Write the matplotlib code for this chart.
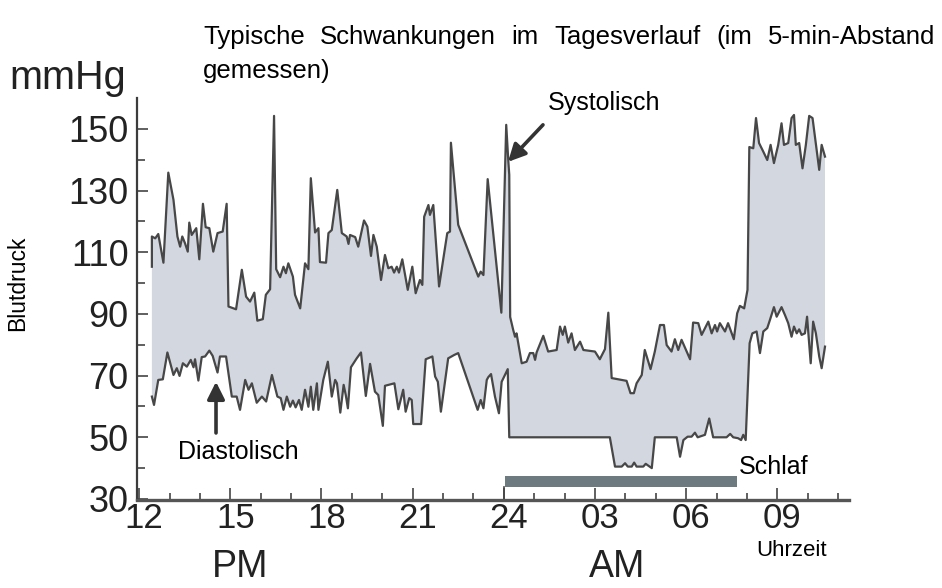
import numpy as np
import matplotlib.pyplot as plt
import matplotlib.transforms as mtransforms

plt.rcParams['font.family'] = ['Liberation Sans', 'DejaVu Sans']

# Blood pressure readings, time in hours since midnight of day 1 (24 = midnight)
sys_h = [12.42, 12.42, 12.53, 12.63, 12.80, 12.96, 13.13, 13.26, 13.35, 13.42,
         13.51, 13.60, 13.65, 13.73, 13.88, 13.98, 14.10, 14.19, 14.31, 14.44,
         14.58, 14.75, 14.88, 14.94, 15.19, 15.38, 15.52, 15.65, 15.79, 15.89,
         16.07, 16.17, 16.31, 16.44, 16.51, 16.64, 16.75, 16.83, 16.91, 17.06,
         17.13, 17.30, 17.46, 17.57, 17.65, 17.79, 17.90, 17.95, 18.15, 18.23,
         18.34, 18.52, 18.67, 18.83, 18.89, 18.94, 19.11, 19.21, 19.40, 19.51,
         19.63, 19.71, 19.82, 19.96, 20.09, 20.20, 20.31, 20.39, 20.48, 20.55,
         20.66, 20.84, 20.99, 21.10, 21.24, 21.32, 21.38, 21.52, 21.57, 21.68,
         21.87, 22.14, 22.23, 22.26, 22.50, 23.16, 23.24, 23.33, 23.47, 23.92,
         24.08, 24.15, 24.18, 24.21, 24.31, 24.37, 24.42, 24.59, 24.75, 24.86,
         24.97, 25.03, 25.08, 25.30, 25.46, 25.74, 25.85, 25.94, 26.01, 26.12,
         26.23, 26.34, 26.51, 26.62, 27.00, 27.16, 27.33, 27.44, 27.55, 28.04,
         28.17, 28.28, 28.37, 28.54, 28.64, 28.83, 28.97, 29.14, 29.27, 29.36,
         29.52, 29.63, 29.74, 29.85, 30.13, 30.23, 30.40, 30.51, 30.73, 30.84,
         30.95, 31.02, 31.11, 31.28, 31.38, 31.57, 31.68, 31.77, 31.91, 32.02,
         32.08, 32.21, 32.30, 32.40, 32.54, 32.67, 32.78, 32.89, 33.03, 33.14,
         33.22, 33.36, 33.47, 33.55, 33.61, 33.72, 33.83, 33.94, 34.05, 34.16,
         34.28, 34.38, 34.46, 34.57]
sys_v = [105.3, 115.1, 114.5, 115.9, 106.6, 135.8, 127.0, 115.1, 111.8, 115.1,
         112.9, 110.2, 119.6, 115.6, 117.8, 107.7, 125.7, 118.1, 117.8, 110.2,
         116.2, 116.7, 125.7, 92.4, 91.5, 104.3, 95.6, 94.0, 96.9, 87.8,
         88.3, 96.2, 98.0, 154.2, 104.5, 101.9, 105.3, 103.2, 106.4, 102.1,
         96.2, 91.8, 106.4, 104.5, 134.0, 116.4, 117.8, 106.8, 106.6, 116.2,
         117.2, 130.2, 116.2, 115.1, 112.7, 115.6, 114.9, 111.8, 120.3, 118.3,
         108.8, 115.6, 111.8, 101.0, 109.1, 104.8, 105.3, 103.4, 105.3, 103.4,
         107.7, 97.8, 105.3, 96.7, 101.0, 99.4, 121.5, 125.3, 122.1, 125.3,
         98.9, 116.2, 116.7, 145.5, 118.9, 102.1, 103.7, 102.6, 133.7, 90.4,
         151.3, 139.4, 135.1, 89.0, 84.8, 82.6, 83.7, 74.0, 74.5, 77.3,
         77.3, 75.1, 77.5, 82.9, 77.8, 78.3, 85.9, 83.2, 85.9, 80.7,
         83.7, 78.3, 81.0, 78.3, 77.8, 75.3, 78.6, 90.4, 69.2, 68.3,
         64.3, 64.3, 67.5, 70.2, 78.3, 72.1, 77.8, 86.4, 86.4, 79.9,
         77.8, 81.8, 78.3, 81.6, 75.3, 87.2, 87.0, 83.2, 87.5, 83.7,
         86.4, 84.3, 87.0, 84.3, 87.0, 81.8, 90.2, 92.6, 91.8, 97.8,
         144.1, 143.7, 153.5, 145.4, 142.6, 139.9, 144.8, 138.9, 144.8, 151.8,
         144.8, 145.4, 153.5, 154.5, 144.8, 145.4, 137.2, 144.8, 154.2, 153.5,
         144.2, 136.7, 144.8, 141.0]

dia_h = [12.42, 12.49, 12.63, 12.78, 12.93, 13.04, 13.13, 13.24, 13.33, 13.44,
         13.57, 13.70, 13.79, 13.84, 13.95, 14.06, 14.17, 14.31, 14.42, 14.58,
         14.66, 14.86, 15.05, 15.21, 15.32, 15.49, 15.60, 15.71, 15.87, 16.04,
         16.18, 16.37, 16.55, 16.66, 16.75, 16.86, 16.97, 17.06, 17.15, 17.26,
         17.35, 17.46, 17.57, 17.65, 17.73, 17.85, 17.90, 18.06, 18.21, 18.34,
         18.45, 18.51, 18.62, 18.73, 18.80, 18.87, 18.97, 19.16, 19.30, 19.46,
         19.60, 19.76, 19.87, 20.02, 20.09, 20.40, 20.53, 20.69, 20.77, 20.89,
         20.97, 21.02, 21.28, 21.43, 21.65, 21.74, 21.83, 21.93, 22.17, 22.37,
         22.50, 23.14, 23.24, 23.33, 23.44, 23.49, 23.58, 23.71, 23.84, 23.93,
         24.13, 24.18, 27.49, 27.66, 27.88, 27.99, 28.08, 28.21, 28.29, 28.37,
         28.59, 28.67, 28.87, 28.97, 29.69, 29.80, 29.91, 30.05, 30.18, 30.29,
         30.38, 30.62, 30.76, 30.89, 31.33, 31.45, 31.55, 31.71, 31.81, 31.88,
         31.96, 32.09, 32.18, 32.32, 32.43, 32.54, 32.67, 32.76, 32.89, 32.98,
         33.14, 33.25, 33.36, 33.47, 33.55, 33.64, 33.72, 33.80, 33.91, 33.98,
         34.10, 34.18, 34.27, 34.38, 34.46, 34.57]
dia_v = [63.2, 60.5, 68.6, 68.8, 77.5, 73.5, 70.2, 72.4, 69.9, 74.0,
         72.9, 75.1, 72.7, 75.3, 68.4, 76.0, 76.2, 78.1, 76.4, 71.0,
         76.2, 76.2, 63.2, 63.2, 58.9, 68.6, 65.4, 67.5, 61.2, 63.2,
         61.6, 70.2, 63.2, 62.7, 58.9, 63.2, 59.9, 61.9, 59.7, 62.1,
         58.9, 65.4, 59.9, 66.4, 58.9, 67.5, 58.9, 68.6, 74.5, 63.2,
         68.6, 67.5, 58.0, 67.0, 63.7, 59.4, 72.7, 75.6, 77.5, 63.4,
         73.8, 64.8, 63.7, 53.7, 66.7, 67.5, 59.1, 65.4, 58.3, 62.7,
         62.1, 54.3, 54.3, 75.3, 76.2, 69.7, 68.0, 58.3, 75.6, 76.7,
         77.3, 58.9, 62.1, 59.4, 68.6, 69.5, 70.5, 63.2, 57.8, 68.0,
         72.1, 50.0, 50.0, 40.5, 40.5, 41.6, 40.5, 40.5, 41.8, 40.5,
         40.5, 41.4, 40.0, 50.0, 50.0, 43.7, 49.1, 50.2, 50.2, 51.5,
         50.0, 50.8, 56.1, 50.0, 50.0, 51.1, 50.0, 49.7, 49.1, 50.8,
         49.1, 80.5, 83.7, 84.3, 77.3, 84.3, 85.4, 88.1, 92.2, 89.1,
         92.2, 89.7, 87.0, 82.6, 85.9, 83.7, 85.0, 83.2, 83.7, 89.1,
         74.0, 87.5, 83.7, 76.2, 72.4, 79.4]

# Sleep period (hours) and axis labelling
sleep_start, sleep_end = 24.05, 31.67
hour_ticks = [12, 15, 18, 21, 24, 27, 30, 33]
hour_labels = ['12', '15', '18', '21', '24', '03', '06', '09']
mmhg_ticks = [30, 50, 70, 90, 110, 130, 150]

title_line1 = "Typische Schwankungen im Tagesverlauf (im 5-min-Abstand"
title_line2 = "gemessen)"

W, H = 942, 588
fig = plt.figure(figsize=(W / 100, H / 100), dpi=100)
ax = fig.add_axes([137 / W, 1 - 499.6 / H, (849 - 137) / W, (499.6 - 98) / H])

line_col = '#474747'
fill_col = '#d3d7df'

# band between diastolic and systolic as a closed polygon
poly_h = np.concatenate([sys_h, dia_h[::-1]])
poly_v = np.concatenate([sys_v, dia_v[::-1]])
ax.fill(poly_h, poly_v, color=fill_col, lw=0, zorder=1)
ax.plot(sys_h, sys_v, color=line_col, lw=1.6, zorder=3)
ax.plot(dia_h, dia_v, color=line_col, lw=1.6, zorder=3)

# sleep bar with marker line down to the axis at midnight
ax.barh(35.7, sleep_end - sleep_start, left=sleep_start, height=3.6,
        color='#6d7b80', zorder=2)
ax.plot([sleep_start - 0.03] * 2, [29.8, 33.9], color='#444444', lw=1.2, zorder=2)
ax.text(sleep_end + 0.05, 40.4, "Schlaf", fontsize=18, va='center', ha='left')

ax.set_xlim(11.93, 35.36)
ax.set_ylim(29.8, 160)

for s in ['top', 'right']:
    ax.spines[s].set_visible(False)
ax.spines['left'].set_color('#3c3c3c')
ax.spines['left'].set_linewidth(1.6)
ax.spines['bottom'].set_color('#555555')
ax.spines['bottom'].set_linewidth(2.4)

ax.set_xticks(hour_ticks)
ax.set_xticklabels(hour_labels)
ax.set_xticks(np.arange(12, 36), minor=True)
ax.set_yticks(mmhg_ticks)
ax.set_yticks(np.arange(40, 150, 20), minor=True)
ax.tick_params(axis='both', which='both', direction='in', color='#444444',
               labelcolor='#222222')
ax.tick_params(axis='x', which='major', length=9, width=1.2, pad=1.5, labelsize=25)
ax.tick_params(axis='x', which='minor', length=5, width=1.2)
ax.tick_params(axis='y', which='major', length=8, width=1.2, pad=6, labelsize=26)
ax.tick_params(axis='y', which='minor', length=6, width=1.2)

# hour labels sit a little right of their ticks
shift = mtransforms.ScaledTranslation(5 / 100, 0, fig.dpi_scale_trans)
for lbl in ax.get_xticklabels():
    lbl.set_transform(lbl.get_transform() + shift)

# arrows pointing at the two curves
arrow_kw = dict(arrowstyle='-|>', color='#333333', lw=2.6, mutation_scale=26,
                shrinkA=0, shrinkB=0)
ax.annotate("", xy=(24.14, 139.3), xytext=(25.29, 151.3), arrowprops=arrow_kw)
ax.text(27.3, 158.4, "Systolisch", fontsize=18, ha='center', va='center')
ax.annotate("", xy=(14.53, 68.0), xytext=(14.53, 51.4), arrowprops=arrow_kw)
ax.text(15.26, 45.3, "Diastolisch", fontsize=18, ha='center', va='center')

fig.text(68 / W, 1 - 78 / H, "mmHg", fontsize=28.5, ha='center', va='center', color='#222222')
fig.text(18 / W, 1 - 283 / H, "Blutdruck", fontsize=16.5, rotation=90,
         ha='center', va='center')
fig.text(240 / W, 1 - 567 / H, "PM", fontsize=27, ha='center', va='center', color='#222222')
fig.text(617 / W, 1 - 567 / H, "AM", fontsize=27, ha='center', va='center', color='#222222')
fig.text(792 / W, 1 - 550 / H, "Uhrzeit", fontsize=16, ha='center', va='center')

# justified two-line heading
x_left, x_right = 203, 935
words = title_line1.split()
word_texts = [fig.text(0, 1 - 37 / H, w, fontsize=18.5, ha='left', va='center')
              for w in words]
fig.canvas.draw()
renderer = fig.canvas.get_renderer()
widths = [t.get_window_extent(renderer).width for t in word_texts]
gap = (x_right - x_left - sum(widths)) / (len(words) - 1)
x = x_left
for t, w in zip(word_texts, widths):
    t.set_x(x / W)
    x += w + gap
fig.text(x_left / W, 1 - 71 / H, title_line2, fontsize=18.5, ha='left', va='center')

fig.savefig('out.png', dpi=100)
